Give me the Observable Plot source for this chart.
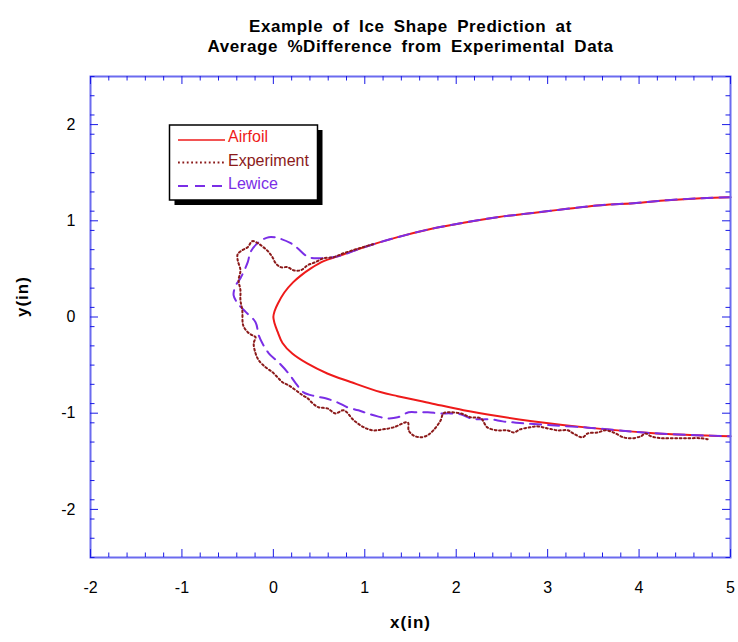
<!DOCTYPE html>
<html>
<head>
<meta charset="utf-8">
<script src="https://cdn.jsdelivr.net/npm/d3@7"></script>
<script src="https://cdn.jsdelivr.net/npm/@observablehq/plot@0.6"></script>
<style>
  body { margin: 0; background: #fff; }
  #chart svg { display: block; }
</style>
</head>
<body>
<div id="chart"></div>
<script>
// ---------- text ----------
const titleLines = ["Example of Ice Shape Prediction at", "Average %Difference from Experimental Data"];
const xLabel = "x(in)";
const yLabel = "y(in)";
const seriesNames = ["Airfoil", "Experiment", "Lewice"];
const seriesColors = ["#ee1a1a", "#8b1a1a", "#7a2ee6"];

// ---------- ticks ----------
const xMajor = [-2, -1, 0, 1, 2, 3, 4, 5];
const yMajor = [-2, -1, 0, 1, 2];
const xDomain = [-2, 5];
const yDomain = [-2.5, 2.5];

// ---------- series ----------
const airfoilX = [5.0, 4.68, 4.31, 3.94, 3.58, 2.81, 2.45, 2.08, 1.72, 1.36, 0.99, 0.72, 0.55, 0.41, 0.30, 0.215, 0.12, 0.05, 0.013, 0.0,
  0.013, 0.045, 0.1, 0.207, 0.37, 0.59, 0.845, 1.17, 1.36, 1.72, 2.08, 2.45, 2.81, 3.44, 4.16, 5.0];
const airfoilY = [1.245, 1.235, 1.214, 1.183, 1.162, 1.079, 1.038, 0.98, 0.915, 0.83, 0.725, 0.635, 0.58, 0.505, 0.43, 0.36, 0.255, 0.14, 0.06, 0.0,
  -0.065, -0.15, -0.27, -0.38, -0.483, -0.587, -0.675, -0.78, -0.823, -0.896, -0.969, -1.03, -1.08, -1.15, -1.208, -1.24];

const experimentX = [1.09, 0.77, 0.66, 0.55, 0.46, 0.375, 0.30, 0.22, 0.155, 0.08, 0.025, -0.01, -0.05, -0.11, -0.17, -0.23, -0.28, -0.34, -0.39,
  -0.39, -0.36, -0.38, -0.36, -0.36, -0.34, -0.33, -0.28, -0.23, -0.195, -0.215, -0.195, -0.16, -0.085, -0.01, 0.045, 0.10, 0.165, 0.245,
  0.32, 0.375, 0.43, 0.495, 0.59, 0.68, 0.77, 0.88, 0.99, 1.09, 1.20, 1.315, 1.47, 1.48, 1.53, 1.61, 1.685, 1.75, 1.83, 1.86, 1.94, 2.05,
  2.16, 2.27, 2.34, 2.45, 2.56, 2.63, 2.70, 2.81, 2.89, 3.0, 3.11, 3.22, 3.28, 3.38, 3.44, 3.55, 3.63, 3.72, 3.83, 3.93, 4.02, 4.07, 4.13,
  4.24, 4.38, 4.53, 4.67, 4.75];
const experimentY = [0.757, 0.663, 0.622, 0.611, 0.57, 0.538, 0.486, 0.486, 0.518, 0.518, 0.559, 0.622, 0.674, 0.726, 0.767, 0.788, 0.726, 0.694, 0.653,
  0.59, 0.486, 0.382, 0.278, 0.175, 0.07, -0.086, -0.158, -0.19, -0.21, -0.273, -0.377, -0.45, -0.522, -0.574, -0.626, -0.678, -0.709, -0.761,
  -0.814, -0.845, -0.897, -0.939, -0.95, -1.002, -0.97, -1.074, -1.147, -1.178, -1.168, -1.147, -1.095, -1.178, -1.23, -1.251, -1.23, -1.178, -1.074, -1.002, -0.991, -1.002,
  -1.043, -1.054, -1.147, -1.178, -1.178, -1.2, -1.168, -1.147, -1.137, -1.158, -1.178, -1.178, -1.21, -1.251, -1.21, -1.2, -1.178, -1.2, -1.251, -1.26, -1.24, -1.21, -1.24,
  -1.26, -1.26, -1.26, -1.26, -1.27];

const lewiceX = [5.0, 4.68, 4.31, 3.94, 3.58, 2.81, 2.45, 2.08, 1.72, 1.36, 0.99, 0.72, 0.54, 0.385, 0.265, 0.19, 0.055, -0.05, -0.16, -0.25,
  -0.28, -0.36, -0.41, -0.435, -0.39, -0.30, -0.195, -0.16, -0.12, -0.05, 0.055, 0.165, 0.245, 0.33, 0.46, 0.57, 0.70, 0.81, 0.93, 1.03,
  1.14, 1.25, 1.36, 1.48, 1.58, 1.69, 1.83, 1.94, 2.05, 2.16, 2.27, 2.38, 2.51, 2.62, 2.74, 3.44, 4.16, 5.0];
const lewiceY = [1.245, 1.235, 1.214, 1.183, 1.162, 1.079, 1.038, 0.98, 0.915, 0.83, 0.725, 0.635, 0.611, 0.622, 0.715, 0.767, 0.819, 0.83, 0.778, 0.674,
  0.57, 0.403, 0.33, 0.227, 0.143, 0.05, -0.054, -0.19, -0.273, -0.377, -0.47, -0.585, -0.689, -0.783, -0.824, -0.845, -0.887, -0.939, -0.97, -1.002,
  -1.033, -1.054, -1.043, -0.991, -0.991, -0.991, -1.002, -1.002, -1.012, -1.054, -1.064, -1.064, -1.085, -1.095, -1.106, -1.15, -1.208, -1.24];

// ---------- layout ----------
const W = 738, H = 642, mL = 90, mR = 8, mT = 76, mB = 85;
const fw = W - mL - mR, fh = H - mT - mB;
const frameColor = "#6b6bef";
const tickColor = "#1a1ae6";
const font = "'Liberation Sans', Arial, Helvetica, sans-serif";

const rows = (xs, ys) => xs.map((x, i) => ({x, y: ys[i]}));
const airfoil = rows(airfoilX, airfoilY);
const experiment = rows(experimentX, experimentY);
const lewice = rows(lewiceX, lewiceY);

const isMinor = v => Math.abs(v - Math.round(v)) > 1e-6;
const xMinor = d3.range(xDomain[0], xDomain[1] + 1e-9, 0.2).filter(isMinor);
const yMinor = d3.range(yDomain[0], yDomain[1] + 1e-9, 0.2).filter(isMinor);

const majorLen = 8, minorLen = 4.5;

const chart = Plot.plot({
  width: W, height: H,
  marginLeft: mL, marginRight: mR, marginTop: mT, marginBottom: mB,
  x: {domain: xDomain},
  y: {domain: yDomain},
  style: {fontFamily: font, fontSize: "16px", color: "#000", background: "#fff"},
  marks: [
    // series
    Plot.line(airfoil, {x: "x", y: "y", stroke: seriesColors[0], strokeWidth: 2, curve: "catmull-rom"}),
    Plot.line(lewice, {x: "x", y: "y", stroke: seriesColors[2], strokeWidth: 2, strokeDasharray: "11,7", curve: "catmull-rom"}),
    Plot.line(experiment, {x: "x", y: "y", stroke: seriesColors[1], strokeWidth: 2, strokeDasharray: "1.8,2.6", curve: "catmull-rom"}),
    // frame
    Plot.frame({stroke: frameColor, strokeWidth: 2}),
    // inward ticks: bottom, top, left, right
    Plot.tickX(xMajor, {x: d => d, insetTop: fh - majorLen, stroke: tickColor}),
    Plot.tickX(xMinor, {x: d => d, insetTop: fh - minorLen, stroke: tickColor}),
    Plot.tickX(xMajor, {x: d => d, insetBottom: fh - majorLen, stroke: tickColor}),
    Plot.tickX(xMinor, {x: d => d, insetBottom: fh - minorLen, stroke: tickColor}),
    Plot.tickY(yMajor, {y: d => d, insetRight: fw - majorLen, stroke: tickColor}),
    Plot.tickY(yMinor, {y: d => d, insetRight: fw - minorLen, stroke: tickColor}),
    Plot.tickY(yMajor, {y: d => d, insetLeft: fw - majorLen, stroke: tickColor}),
    Plot.tickY(yMinor, {y: d => d, insetLeft: fw - minorLen, stroke: tickColor}),
    // tick labels
    Plot.axisX({ticks: xMajor, tickSize: 0, tickPadding: 24, tickFormat: d => String(d), label: null, fontSize: 16}),
    Plot.axisY({ticks: yMajor, tickSize: 0, tickPadding: 15, tickFormat: d => String(d), label: null, fontSize: 16}),
    // axis titles
    Plot.text([xLabel], {frameAnchor: "bottom", dy: 70, fontWeight: "bold", fontSize: 17}),
    Plot.text([yLabel], {frameAnchor: "left", dx: -68, rotate: -90, fontWeight: "bold", fontSize: 17}),
    // title
    Plot.text([titleLines[0]], {frameAnchor: "top", dy: -57, fontWeight: "bold", fontSize: 17}),
    Plot.text([titleLines[1]], {frameAnchor: "top", dy: -37, fontWeight: "bold", fontSize: 17})
  ]
});

// letter spacing for the title / axis titles
const svg = d3.select(chart);
svg.selectAll("text").each(function() {
  const t = this.textContent;
  if (titleLines.includes(t)) d3.select(this).style("letter-spacing", "0.6px").style("word-spacing", "4px");
  if (t === xLabel || t === yLabel) d3.select(this).style("letter-spacing", "1px");
});

// ---------- legend ----------
const lg = svg.append("g").attr("font-family", font).attr("font-size", 16).attr("text-anchor", "start");
const bx = 169.5, by = 125, bw = 148, bh = 75;
lg.append("rect").attr("x", bx + 5).attr("y", by + 5).attr("width", bw).attr("height", bh).attr("fill", "#000");
lg.append("rect").attr("x", bx).attr("y", by).attr("width", bw).attr("height", bh)
  .attr("fill", "#fff").attr("stroke", "#000").attr("stroke-width", 1.5);
const lineY = [140, 162.5, 186];
const textY = [142, 165.5, 189];
const dashes = [null, "1.8,2.6", "10,7"];
seriesNames.forEach((name, i) => {
  lg.append("line").attr("x1", 178).attr("x2", 225).attr("y1", lineY[i]).attr("y2", lineY[i])
    .attr("stroke", seriesColors[i]).attr("stroke-width", i === 0 ? 1.5 : 2)
    .attr("stroke-dasharray", dashes[i]);
  lg.append("text").attr("x", 228).attr("y", textY[i]).attr("fill", seriesColors[i])
    .attr("text-anchor", "start").text(name);
});

document.getElementById("chart").appendChild(chart);
</script>
</body>
</html>
